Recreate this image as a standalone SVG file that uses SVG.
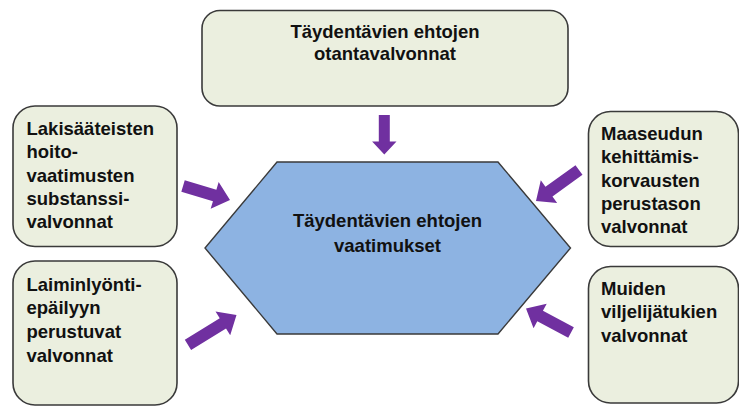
<svg xmlns="http://www.w3.org/2000/svg" width="739" height="408" viewBox="0 0 739 408">
<style>
.box{fill:#EBEFDF;stroke:#3a3a3a;stroke-width:1.6}
.hex{fill:#8DB3E2;stroke:#3a3a3a;stroke-width:1.4}
.t{font-family:"Liberation Sans",Arial,sans-serif;font-weight:bold;font-size:18.5px;fill:#111}
.c{text-anchor:middle}
.arr{fill:#7030A0}
</style>
<rect width="739" height="408" fill="#ffffff"/>
<g id="top">
<rect class="box" x="202" y="10.5" width="366" height="95.5" rx="18"/>
<text class="t c" x="385" y="37.5">Täydentävien ehtojen</text>
<text class="t c" x="385" y="60">otantavalvonnat</text>
</g>
<g id="left1">
<rect class="box" x="13" y="106" width="164" height="140.5" rx="22"/>
<text class="t" x="26.5" y="135">Lakisääteisten</text>
<text class="t" x="26.5" y="158.3">hoito-</text>
<text class="t" x="26.5" y="181.6">vaatimusten</text>
<text class="t" x="26.5" y="204.9">substanssi-</text>
<text class="t" x="26.5" y="228.2">valvonnat</text>
</g>
<g id="left2">
<rect class="box" x="13" y="261" width="164" height="144" rx="22"/>
<text class="t" x="26.5" y="290.7">Laiminlyönti-</text>
<text class="t" x="26.5" y="314.4">epäilyyn</text>
<text class="t" x="26.5" y="338">perustuvat</text>
<text class="t" x="26.5" y="361.7">valvonnat</text>
</g>
<g id="right1">
<rect class="box" x="588.5" y="111.5" width="150" height="135" rx="22"/>
<text class="t" x="601" y="140">Maaseudun</text>
<text class="t" x="601" y="163.3">kehittämis-</text>
<text class="t" x="601" y="186.6">korvausten</text>
<text class="t" x="601" y="209.9">perustason</text>
<text class="t" x="601" y="233.2">valvonnat</text>
</g>
<g id="right2">
<rect class="box" x="588.5" y="266.5" width="150" height="136.5" rx="22"/>
<text class="t" x="601" y="295">Muiden</text>
<text class="t" x="601" y="318.3">viljelijätukien</text>
<text class="t" x="601" y="341.6">valvonnat</text>
</g>
<g id="center">
<polygon class="hex" points="277,162 498,162 570.5,248 498,334 277,334 205,248"/>
<text class="t c" x="387.5" y="226.5">Täydentävien ehtojen</text>
<text class="t c" x="387.5" y="252">vaatimukset</text>
</g>
<g id="connectors">
<path class="arr" d="M-39.5,-5.5 L-13,-5.5 L-13,-12.2 L0,0 L-13,12.2 L-13,5.5 L-39.5,5.5 Z" transform="translate(384.3,154.5) rotate(90)"/>
<path class="arr" d="M-49,-6 L-16,-6 L-16,-14 L0,0 L-16,14 L-16,6 L-49,6 Z" transform="translate(230,200) rotate(16.6)"/>
<path class="arr" d="M-57,-6 L-16,-6 L-16,-14 L0,0 L-16,14 L-16,6 L-57,6 Z" transform="translate(236.5,315) rotate(-31.6)"/>
<path class="arr" d="M-53,-6 L-16,-6 L-16,-14 L0,0 L-16,14 L-16,6 L-53,6 Z" transform="translate(536,201) rotate(144.2)"/>
<path class="arr" d="M-51,-6 L-16,-6 L-16,-14 L0,0 L-16,14 L-16,6 L-51,6 Z" transform="translate(526,308.5) rotate(208)"/>
</g>
</svg>
